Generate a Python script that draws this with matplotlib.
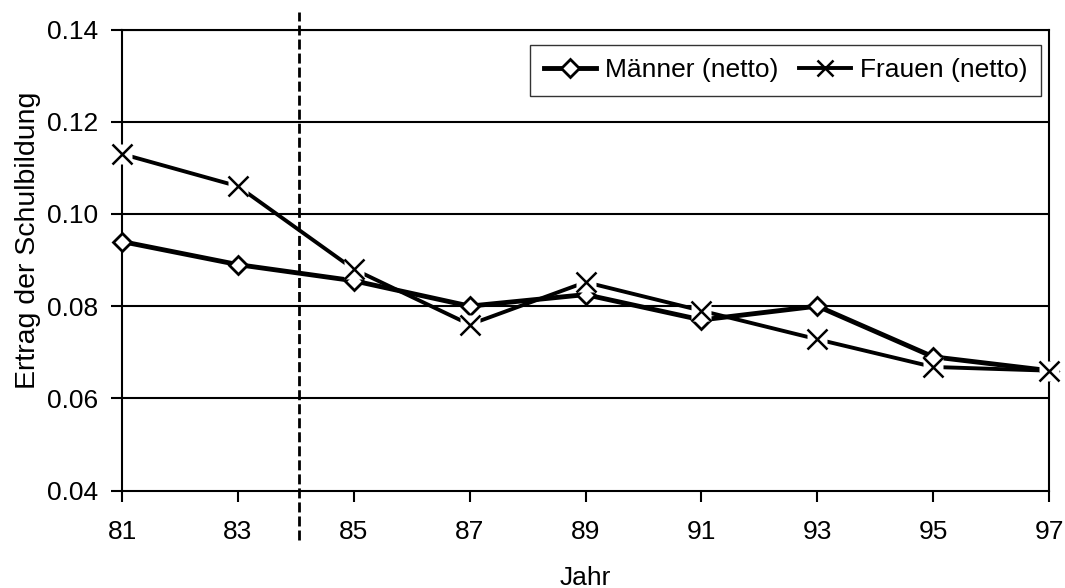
import matplotlib
matplotlib.use("Agg")
import matplotlib.pyplot as plt

plt.rcParams['font.family'] = ['Liberation Sans', 'DejaVu Sans']

# data
years = [81, 83, 85, 87, 89, 91, 93, 95, 97]
maenner = [0.094, 0.089, 0.0855, 0.080, 0.0825, 0.077, 0.080, 0.069, 0.066]
frauen = [0.113, 0.106, 0.088, 0.076, 0.0852, 0.079, 0.0728, 0.0668, 0.066]
cutoff_year = 84.05

x_ticks = [81, 83, 85, 87, 89, 91, 93, 95, 97]
y_ticks = [0.04, 0.06, 0.08, 0.10, 0.12, 0.14]

fig = plt.figure(figsize=(10.65, 5.88), dpi=100)
ax = fig.add_axes([0.1146, 0.1658, 0.8705, 0.784])

fs = 19

# horizontal grid
for yv in y_ticks[1:]:
    ax.axhline(yv, color='black', lw=1.5, zorder=1)

# Maenner: thick line with open diamonds
m_line, = ax.plot(years, maenner, color='black', lw=3.5, marker='D', ms=9.5,
                  mfc='white', mec='black', mew=2, zorder=3, clip_on=False)

# Frauen: line with x markers on a white background
ax.plot(years, frauen, color='black', lw=2.8, zorder=4, clip_on=False)
ax.plot(years, frauen, ls='none', marker='s', ms=15, mfc='white',
        mec='none', zorder=5, clip_on=False)
ax.plot(years, frauen, ls='none', marker='x', ms=14, mec='black',
        mew=1.8, zorder=6, clip_on=False)
f_handle, = ax.plot([], [], color='black', lw=2.8, marker='x', ms=11,
                    mec='black', mew=1.8)

# dashed separator reaching beyond the plot area
ax.plot([cutoff_year, cutoff_year], [0.0293, 0.1438], color='black', lw=2,
        ls=(0, (3.6, 1.45)), clip_on=False, zorder=7)

ax.set_xlim(81, 97)
ax.set_ylim(0.04, 0.14)
ax.set_xticks(x_ticks)
ax.set_xticklabels([str(v) for v in x_ticks])
ax.set_yticks(y_ticks)
ax.set_yticklabels(['%.2f' % v for v in y_ticks])
ax.tick_params(axis='both', direction='out', length=8, width=1.5,
               labelsize=fs, colors='black')
ax.tick_params(axis='y', pad=9)
ax.tick_params(axis='x', pad=13)
for s in ax.spines.values():
    s.set_linewidth(1.5)
    s.set_color('black')

ax.set_xlabel('Jahr', fontsize=fs, va='top')
ax.xaxis.set_label_coords(0.5, -0.163)
ax.set_ylabel('Ertrag der Schulbildung', fontsize=20.5, va='center')
ax.yaxis.set_label_coords(-0.1014, 0.543)

leg = ax.legend([m_line, f_handle], ['Männer (netto)', 'Frauen (netto)'],
                ncol=2, loc='upper right', bbox_to_anchor=(0.9914, 0.966),
                borderaxespad=0, fontsize=fs, frameon=True, fancybox=False,
                handlelength=2.0, handletextpad=0.34, columnspacing=0.76,
                borderpad=0.5)
leg.get_frame().set_edgecolor('black')
leg.get_frame().set_linewidth(1.0)

fig.savefig('out.png', dpi=100, facecolor='white')
